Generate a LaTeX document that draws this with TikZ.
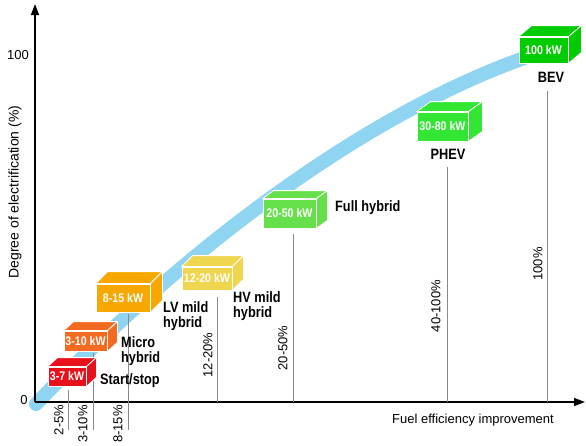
\documentclass[tikz,border=0pt]{standalone}
\usepackage{fontspec}
\setmainfont{Liberation Sans}
\newfontfamily\lblfont[FakeStretch=0.85]{Liberation Sans}
\usetikzlibrary{arrows.meta,calc}
\definecolor{band}{HTML}{8FD4F0}
\definecolor{cred}{HTML}{E8101A}
\definecolor{corr}{HTML}{F36A21}
\definecolor{cora}{HTML}{F6A800}
\definecolor{cyel}{HTML}{F0D54E}
\definecolor{cgra}{HTML}{66E04A}
\definecolor{cgrb}{HTML}{33E633}
\definecolor{cgrc}{HTML}{00CC00}
\definecolor{gline}{HTML}{8A8A8A}
\tikzset{
  axisline/.style={line width=1.4pt, -{Triangle[length=11pt,width=8pt]}},
  gridline/.style={gline, line width=0.9pt},
  cubefront/.style={draw=white, line width=0.8pt, inner sep=0pt, text=white,
    font=\lblfont\bfseries\fontsize{12.5}{13}\selectfont},
  cubeface/.style={draw=white, line width=0.8pt, line join=round},
  cat/.style={font=\lblfont\bfseries\fontsize{15}{15}\selectfont, align=left, inner sep=0pt},
  pct/.style={font=\fontsize{13}{13}\selectfont, rotate=90, inner sep=0pt},
  axlbl/.style={font=\fontsize{13}{13}\selectfont, inner sep=0pt}
}
\newcommand\ecube[9]{%
  \node[cubefront, fill=#8, minimum width=#4pt, minimum height=#5pt] (#1) at (#2,#3) {#9};
  \filldraw[cubeface, fill=#8] (#1.north west) -- ++(#6,-#7) -- ($(#1.north east)+(#6,-#7)$) -- (#1.north east) -- cycle;
  \filldraw[cubeface, fill=#8] (#1.north east) -- ++(#6,-#7) -- ($(#1.south east)+(#6,-#7)$) -- (#1.south east) -- cycle;
}
\begin{document}
\begin{tikzpicture}[x=1pt,y=-1pt]
\useasboundingbox (0,0) rectangle (586,445);
% blue band
\coordinate (bs) at (36,404);
\coordinate (be) at (552,49);
\draw[band, line width=14pt, line cap=round] (bs) .. controls (231,202) and (420,88) .. (be);
% axes
\coordinate (O) at (35,402);
\coordinate (ytop) at (35,4);
\coordinate (xend) at (585,402);
\draw[axisline] (O) -- (ytop);
\draw[axisline] (O) -- (xend);
\node[axlbl] (y100) at (18,55) {100};
\node[axlbl] (y0) at (24,400) {0};
\node[axlbl, rotate=90, font=\fontsize{14}{14}\selectfont] (ylab) at (15,192) {Degree of electrification (\%)};
\node[axlbl, anchor=east] (xlab) at (554,420) {Fuel efficiency improvement};
% grey lines
\coordinate (l1a) at (68,390);  \coordinate (l1b) at (68,430);
\coordinate (l2a) at (93,353);  \coordinate (l2b) at (93,430);
\coordinate (l3a) at (128,314); \coordinate (l3b) at (128,430);
\coordinate (l4a) at (217,297); \coordinate (l4b) at (217,402);
\coordinate (l5a) at (293,234); \coordinate (l5b) at (293,402);
\coordinate (l6a) at (447,167); \coordinate (l6b) at (447,402);
\coordinate (l7a) at (547,91);  \coordinate (l7b) at (547,402);
\foreach \i in {1,...,7} {\draw[gridline] (l\i a) -- (l\i b);}
% percentage labels
\node[pct] (p1) at (59,420) {2-5\%};
\node[pct] (p2) at (83,424) {3-10\%};
\node[pct] (p3) at (118,424) {8-15\%};
\node[pct] (p4) at (208,355) {12-20\%};
\node[pct] (p5) at (283,348) {20-50\%};
\node[pct] (p6) at (436,306) {40-100\%};
\node[pct] (p7) at (538,264) {100\%};
% cubes
\ecube{b1}{67}{376.5}{38}{19}{10}{9}{cred}{3-7 kW}
\ecube{b2}{85.5}{341}{43}{20}{10}{9}{corr}{3-10 kW}
\ecube{b3}{123}{298}{54}{28}{12}{12}{cora}{8-15 kW}
\ecube{b4}{207}{278.5}{50}{23}{11}{11}{cyel}{12-20 kW}
\ecube{b5}{289.5}{213.5}{53}{29}{11}{8}{cgra}{20-50 kW}
\ecube{b6}{442.5}{126.5}{51}{29}{14}{10}{cgrb}{30-80 kW}
\ecube{b7}{543.5}{50}{49}{26}{13}{11}{cgrc}{100 kW}
% category labels
\node[cat, anchor=west] (t1) at (100,381) {Start/stop};
\node[cat, anchor=west] (t2) at (121,351) {Micro\\hybrid};
\node[cat, anchor=west] (t3) at (163,316) {LV mild\\hybrid};
\node[cat, anchor=west] (t4) at (233,306) {HV mild\\hybrid};
\node[cat, anchor=west] (t5) at (335,208) {Full hybrid};
\node[cat] (t6) at (448,154) {PHEV};
\node[cat] (t7) at (551,77) {BEV};
\end{tikzpicture}
\end{document}
